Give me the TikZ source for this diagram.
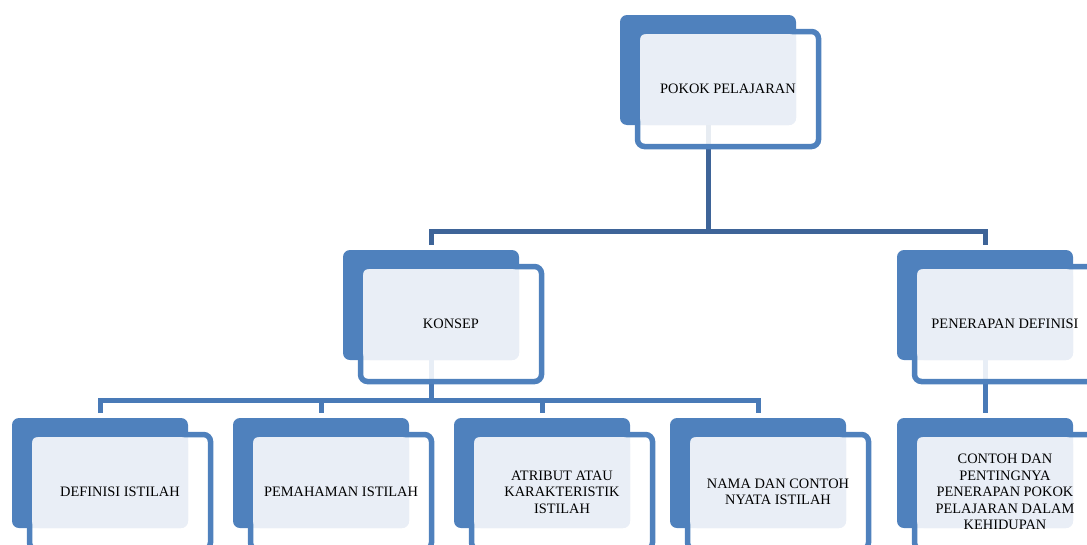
\documentclass[tikz,border=0pt]{standalone}
\usepackage{fontspec}
\setmainfont{Liberation Serif}
\usetikzlibrary{positioning,backgrounds}
\definecolor{biru}{RGB}{79,129,189}
\definecolor{birumuda}{RGB}{233,238,246}
\definecolor{garistua}{RGB}{62,100,152}
\definecolor{garisbiru}{RGB}{73,122,183}

\begin{document}
\begin{tikzpicture}[x=1pt,y=-1pt]
\tikzstyle{belakang}=[rectangle, rounded corners=7pt, fill=biru, minimum width=176pt, minimum height=110pt, inner sep=0pt, outer sep=0pt, anchor=north west]
\tikzstyle{bingkai}=[rectangle, rounded corners=7pt, draw=biru, line width=5.5pt, fill=white, fill opacity=0.88, minimum width=181pt, minimum height=115pt, inner sep=0pt, outer sep=0pt]
\tikzstyle{isian}=[rectangle, rounded corners=7pt, fill=birumuda, minimum width=156pt, minimum height=91pt, inner sep=0pt, outer sep=0pt]
\tikzstyle{teks}=[align=center, font=\fontsize{14.4}{16.5}\selectfont]
\tikzstyle{garis1}=[draw=garistua, line width=5pt]
\tikzstyle{garis2}=[draw=garisbiru, line width=5pt]
\useasboundingbox (0,0) rectangle (1087,544);
\clip (0,0) rectangle (1087,544);

 \node[belakang] (pokokbg) at (620,15) {};
 \node[bingkai, below right=16.5pt and 17.5pt of pokokbg.north west] (pokokfr) {};
 \node[isian, below right=19pt and 20pt of pokokbg.north west] (pokokis) {};
 \node[teks] (pokok) at (pokokfr.center) {POKOK PELAJARAN};

 \node[belakang] (konsepbg) at (343,250) {};
 \node[bingkai, below right=16.5pt and 17.5pt of konsepbg.north west] (konsepfr) {};
 \node[isian, below right=19pt and 20pt of konsepbg.north west] (konsepis) {};
 \node[teks] (konsep) at (konsepfr.center) {KONSEP};

 \node[belakang] (penerapanbg) at (897,250) {};
 \node[bingkai, below right=16.5pt and 17.5pt of penerapanbg.north west] (penerapanfr) {};
 \node[isian, below right=19pt and 20pt of penerapanbg.north west] (penerapanis) {};
 \node[teks] (penerapan) at (penerapanfr.center) {PENERAPAN DEFINISI};

 \node[belakang] (definisibg) at (12,418) {};
 \node[bingkai, below right=16.5pt and 17.5pt of definisibg.north west] (definisifr) {};
 \node[isian, below right=19pt and 20pt of definisibg.north west] (definisiis) {};
 \node[teks] (definisi) at (definisifr.center) {DEFINISI ISTILAH};

 \node[belakang] (pemahamanbg) at (233,418) {};
 \node[bingkai, below right=16.5pt and 17.5pt of pemahamanbg.north west] (pemahamanfr) {};
 \node[isian, below right=19pt and 20pt of pemahamanbg.north west] (pemahamanis) {};
 \node[teks] (pemahaman) at (pemahamanfr.center) {PEMAHAMAN ISTILAH};

 \node[belakang] (atributbg) at (454,418) {};
 \node[bingkai, below right=16.5pt and 17.5pt of atributbg.north west] (atributfr) {};
 \node[isian, below right=19pt and 20pt of atributbg.north west] (atributis) {};
 \node[teks] (atribut) at (atributfr.center) {ATRIBUT ATAU\\KARAKTERISTIK\\ISTILAH};

 \node[belakang] (namabg) at (670,418) {};
 \node[bingkai, below right=16.5pt and 17.5pt of namabg.north west] (namafr) {};
 \node[isian, below right=19pt and 20pt of namabg.north west] (namais) {};
 \node[teks] (nama) at (namafr.center) {NAMA DAN CONTOH\\NYATA ISTILAH};

 \node[belakang] (contohbg) at (897,418) {};
 \node[bingkai, below right=16.5pt and 17.5pt of contohbg.north west] (contohfr) {};
 \node[isian, below right=19pt and 20pt of contohbg.north west] (contohis) {};
 \node[teks] (contoh) at (contohfr.center) {CONTOH DAN\\PENTINGNYA\\PENERAPAN POKOK\\PELAJARAN DALAM\\KEHIDUPAN};

 \begin{pgfonlayer}{background}
 \coordinate (cabang1) at (708,231);
 \coordinate (cabang2) at (431,400);
 \draw[garis1] (pokokbg.center) -- (cabang1);
 \draw[garis1] ([yshift=5pt]konsepbg.north) |- (cabang1) -| ([yshift=5pt]penerapanbg.north);
 \draw[garis2] (konsepbg.center) -- (cabang2);
 \draw[garis2] ([yshift=5pt]definisibg.north) |- (cabang2) -| ([yshift=5pt]namabg.north);
 \draw[garis2] (cabang2 -| pemahamanbg.north) -- ([yshift=5pt]pemahamanbg.north);
 \draw[garis2] (cabang2 -| atributbg.north) -- ([yshift=5pt]atributbg.north);
 \draw[garis2] (penerapanbg.center) -- ([yshift=5pt]contohbg.north);
 \end{pgfonlayer}
\end{tikzpicture}
\end{document}
